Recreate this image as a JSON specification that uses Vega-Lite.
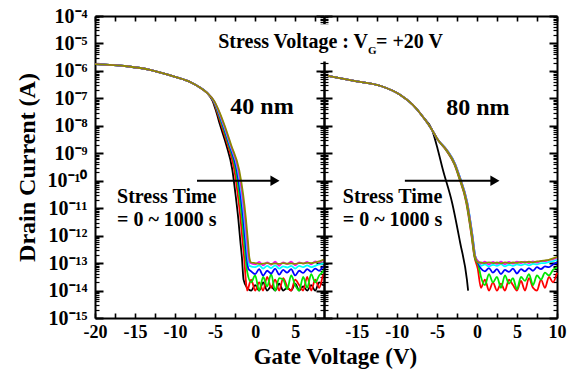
{
"$schema":"https://vega.github.io/schema/vega-lite/v6.json",
"padding":{"left":15,"top":6,"right":5,"bottom":5},
"background":"white",
"spacing":0,
"bounds":"flush",
"config":{"view":{"stroke":null},"font":"Liberation Serif","text":{"font":"Liberation Serif"},"axis":{"grid":false,"labelFont":"Liberation Serif","titleFont":"Liberation Serif","labelFontWeight":"bold","titleFontWeight":"bold","labelColor":"black","titleColor":"black","domainColor":"black","tickColor":"black","domainWidth":2,"tickWidth":1.6,"labelFlush":false,"labelOverlap":false}},
"datasets":{
"curves":[
{"p":"L","s":"0","V":-20,"I":1.78e-6},{"p":"L","s":"0","V":-16,"I":1.48e-6},{"p":"L","s":"0","V":-13,"I":1.07e-6},{"p":"L","s":"0","V":-10,"I":6.03e-7},{"p":"L","s":"0","V":-8,"I":3.8e-7},{"p":"L","s":"0","V":-6.9,"I":2.51e-7},{"p":"L","s":"0","V":-6,"I":1.58e-7},
{"p":"L","s":"0","V":-5.3,"I":7.94e-8},{"p":"L","s":"0","V":-4.95,"I":3.98e-8},{"p":"L","s":"0","V":-4.35,"I":1e-8},{"p":"L","s":"0","V":-3.6,"I":2e-9},{"p":"L","s":"0","V":-2.85,"I":2.51e-10},{"p":"L","s":"0","V":-2.45,"I":3.16e-11},{"p":"L","s":"0","V":-2.1,"I":3.98e-12},{"p":"L","s":"0","V":-1.85,"I":6.31e-13},{"p":"L","s":"0","V":-1.65,"I":1.58e-13},
{"p":"L","s":"0","V":-1.45,"I":2.51e-14},{"p":"L","s":"0","V":-1,"I":1.26e-14},{"p":"L","s":"0","V":-0.5,"I":1e-14},{"p":"L","s":"0","V":0,"I":1.58e-14},{"p":"L","s":"0","V":0.5,"I":1e-14},{"p":"L","s":"0","V":1,"I":2e-14},{"p":"L","s":"0","V":1.5,"I":1e-14},{"p":"L","s":"0","V":2,"I":1.41e-14},{"p":"L","s":"0","V":2.5,"I":1e-14},{"p":"L","s":"0","V":3,"I":1.78e-14},{"p":"L","s":"0","V":3.5,"I":1e-14},{"p":"L","s":"0","V":4,"I":1.26e-14},{"p":"L","s":"0","V":4.5,"I":1e-14},{"p":"L","s":"0","V":5,"I":1.78e-14},{"p":"L","s":"0","V":5.5,"I":1e-14},{"p":"L","s":"0","V":6,"I":1.41e-14},{"p":"L","s":"0","V":6.5,"I":1e-14},{"p":"L","s":"0","V":7,"I":1.58e-14},{"p":"L","s":"0","V":7.5,"I":1e-14},{"p":"L","s":"0","V":8,"I":2e-14},{"p":"L","s":"0","V":8.5,"I":1.58e-14},{"p":"L","s":"0","V":8.6,"I":1.58e-14},

{"p":"L","s":"10","V":-20,"I":1.78e-6},{"p":"L","s":"10","V":-16,"I":1.48e-6},{"p":"L","s":"10","V":-13,"I":1.07e-6},{"p":"L","s":"10","V":-10,"I":6.03e-7},{"p":"L","s":"10","V":-8,"I":3.8e-7},{"p":"L","s":"10","V":-6.9,"I":2.51e-7},{"p":"L","s":"10","V":-6,"I":1.58e-7},
{"p":"L","s":"10","V":-5.24,"I":7.94e-8},{"p":"L","s":"10","V":-4.85,"I":3.98e-8},{"p":"L","s":"10","V":-4.19,"I":1e-8},{"p":"L","s":"10","V":-3.42,"I":2e-9},{"p":"L","s":"10","V":-2.6,"I":2.51e-10},{"p":"L","s":"10","V":-2.17,"I":3.16e-11},{"p":"L","s":"10","V":-1.82,"I":3.98e-12},{"p":"L","s":"10","V":-1.57,"I":6.31e-13},{"p":"L","s":"10","V":-1.37,"I":1.58e-13},
{"p":"L","s":"10","V":-1.2,"I":3.16e-14},{"p":"L","s":"10","V":-1,"I":1e-14},{"p":"L","s":"10","V":-0.5,"I":2.51e-14},{"p":"L","s":"10","V":0,"I":1e-14},{"p":"L","s":"10","V":0.5,"I":2e-14},{"p":"L","s":"10","V":1,"I":1e-14},{"p":"L","s":"10","V":1.5,"I":3.16e-14},{"p":"L","s":"10","V":2,"I":1.26e-14},{"p":"L","s":"10","V":2.5,"I":2.51e-14},{"p":"L","s":"10","V":3,"I":1e-14},{"p":"L","s":"10","V":3.5,"I":2.82e-14},{"p":"L","s":"10","V":4,"I":1.41e-14},{"p":"L","s":"10","V":4.5,"I":1e-14},{"p":"L","s":"10","V":5,"I":2.51e-14},{"p":"L","s":"10","V":5.5,"I":1.58e-14},{"p":"L","s":"10","V":6,"I":1e-14},{"p":"L","s":"10","V":6.5,"I":3.16e-14},{"p":"L","s":"10","V":7,"I":1e-14},{"p":"L","s":"10","V":7.5,"I":2.51e-14},{"p":"L","s":"10","V":8,"I":1.26e-14},{"p":"L","s":"10","V":8.5,"I":3.55e-14},{"p":"L","s":"10","V":8.6,"I":3.98e-14},

{"p":"L","s":"30","V":-20,"I":1.78e-6},{"p":"L","s":"30","V":-16,"I":1.48e-6},{"p":"L","s":"30","V":-13,"I":1.07e-6},{"p":"L","s":"30","V":-10,"I":6.03e-7},{"p":"L","s":"30","V":-8,"I":3.8e-7},{"p":"L","s":"30","V":-6.9,"I":2.51e-7},{"p":"L","s":"30","V":-6,"I":1.58e-7},
{"p":"L","s":"30","V":-5.2,"I":7.94e-8},{"p":"L","s":"30","V":-4.78,"I":3.98e-8},{"p":"L","s":"30","V":-4.08,"I":1e-8},{"p":"L","s":"30","V":-3.3,"I":2e-9},{"p":"L","s":"30","V":-2.43,"I":2.51e-10},{"p":"L","s":"30","V":-1.98,"I":3.16e-11},{"p":"L","s":"30","V":-1.63,"I":3.98e-12},{"p":"L","s":"30","V":-1.38,"I":6.31e-13},{"p":"L","s":"30","V":-1.19,"I":1.58e-13},
{"p":"L","s":"30","V":-1,"I":5.01e-14},{"p":"L","s":"30","V":-0.5,"I":2e-14},{"p":"L","s":"30","V":0,"I":3.55e-14},{"p":"L","s":"30","V":0.5,"I":1e-14},{"p":"L","s":"30","V":1,"I":3.16e-14},{"p":"L","s":"30","V":1.5,"I":1.41e-14},{"p":"L","s":"30","V":2,"I":3.98e-14},{"p":"L","s":"30","V":2.5,"I":1e-14},{"p":"L","s":"30","V":3,"I":2.82e-14},{"p":"L","s":"30","V":3.5,"I":2.51e-14},{"p":"L","s":"30","V":4,"I":1.12e-14},{"p":"L","s":"30","V":4.5,"I":3.55e-14},{"p":"L","s":"30","V":5,"I":1.58e-14},{"p":"L","s":"30","V":5.5,"I":1e-14},{"p":"L","s":"30","V":6,"I":3.16e-14},{"p":"L","s":"30","V":6.5,"I":1.26e-14},{"p":"L","s":"30","V":7,"I":3.98e-14},{"p":"L","s":"30","V":7.5,"I":2e-14},{"p":"L","s":"30","V":8,"I":3.55e-14},{"p":"L","s":"30","V":8.5,"I":5.01e-14},{"p":"L","s":"30","V":8.6,"I":5.62e-14},

{"p":"L","s":"100","V":-20,"I":1.78e-6},{"p":"L","s":"100","V":-16,"I":1.48e-6},{"p":"L","s":"100","V":-13,"I":1.07e-6},{"p":"L","s":"100","V":-10,"I":6.03e-7},{"p":"L","s":"100","V":-8,"I":3.8e-7},{"p":"L","s":"100","V":-6.9,"I":2.51e-7},{"p":"L","s":"100","V":-6,"I":1.58e-7},
{"p":"L","s":"100","V":-5.17,"I":7.94e-8},{"p":"L","s":"100","V":-4.72,"I":3.98e-8},{"p":"L","s":"100","V":-3.99,"I":1e-8},{"p":"L","s":"100","V":-3.21,"I":2e-9},{"p":"L","s":"100","V":-2.3,"I":2.51e-10},{"p":"L","s":"100","V":-1.83,"I":3.16e-11},{"p":"L","s":"100","V":-1.48,"I":3.98e-12},{"p":"L","s":"100","V":-1.23,"I":6.31e-13},{"p":"L","s":"100","V":-1.05,"I":1.58e-13},
{"p":"L","s":"100","V":-0.85,"I":6.31e-14},{"p":"L","s":"100","V":-0.5,"I":5.01e-14},{"p":"L","s":"100","V":0,"I":3.98e-14},{"p":"L","s":"100","V":0.5,"I":6.03e-14},{"p":"L","s":"100","V":1,"I":3.55e-14},{"p":"L","s":"100","V":1.5,"I":5.25e-14},{"p":"L","s":"100","V":2,"I":4.17e-14},{"p":"L","s":"100","V":2.5,"I":6.31e-14},{"p":"L","s":"100","V":3,"I":3.8e-14},{"p":"L","s":"100","V":3.5,"I":5.62e-14},{"p":"L","s":"100","V":4,"I":4.47e-14},{"p":"L","s":"100","V":4.5,"I":6.03e-14},{"p":"L","s":"100","V":5,"I":3.55e-14},{"p":"L","s":"100","V":5.5,"I":5.25e-14},{"p":"L","s":"100","V":6,"I":4.37e-14},{"p":"L","s":"100","V":6.5,"I":6.03e-14},{"p":"L","s":"100","V":7,"I":4.79e-14},{"p":"L","s":"100","V":7.5,"I":6.31e-14},{"p":"L","s":"100","V":8,"I":5.25e-14},{"p":"L","s":"100","V":8.5,"I":7.08e-14},{"p":"L","s":"100","V":8.6,"I":7.08e-14},

{"p":"L","s":"300","V":-20,"I":1.78e-6},{"p":"L","s":"300","V":-16,"I":1.48e-6},{"p":"L","s":"300","V":-13,"I":1.07e-6},{"p":"L","s":"300","V":-10,"I":6.03e-7},{"p":"L","s":"300","V":-8,"I":3.8e-7},{"p":"L","s":"300","V":-6.9,"I":2.51e-7},{"p":"L","s":"300","V":-6,"I":1.58e-7},
{"p":"L","s":"300","V":-5.14,"I":7.94e-8},{"p":"L","s":"300","V":-4.67,"I":3.98e-8},{"p":"L","s":"300","V":-3.91,"I":1e-8},{"p":"L","s":"300","V":-3.12,"I":2e-9},{"p":"L","s":"300","V":-2.17,"I":2.51e-10},{"p":"L","s":"300","V":-1.69,"I":3.16e-11},{"p":"L","s":"300","V":-1.34,"I":3.98e-12},{"p":"L","s":"300","V":-1.09,"I":6.31e-13},{"p":"L","s":"300","V":-0.91,"I":1.58e-13},
{"p":"L","s":"300","V":-0.7,"I":7.94e-14},{"p":"L","s":"300","V":0,"I":7.08e-14},{"p":"L","s":"300","V":0.5,"I":8.32e-14},{"p":"L","s":"300","V":1,"I":6.31e-14},{"p":"L","s":"300","V":1.5,"I":7.94e-14},{"p":"L","s":"300","V":2,"I":6.61e-14},{"p":"L","s":"300","V":2.5,"I":8.32e-14},{"p":"L","s":"300","V":3,"I":6.31e-14},{"p":"L","s":"300","V":3.5,"I":7.59e-14},{"p":"L","s":"300","V":4,"I":6.92e-14},{"p":"L","s":"300","V":4.5,"I":7.94e-14},{"p":"L","s":"300","V":5,"I":6.31e-14},{"p":"L","s":"300","V":5.5,"I":7.94e-14},{"p":"L","s":"300","V":6,"I":7.08e-14},{"p":"L","s":"300","V":6.5,"I":8.32e-14},{"p":"L","s":"300","V":7,"I":7.08e-14},{"p":"L","s":"300","V":7.5,"I":7.94e-14},{"p":"L","s":"300","V":8,"I":8.91e-14},{"p":"L","s":"300","V":8.5,"I":9.55e-14},{"p":"L","s":"300","V":8.6,"I":1e-13},

{"p":"L","s":"600","V":-20,"I":1.78e-6},{"p":"L","s":"600","V":-16,"I":1.48e-6},{"p":"L","s":"600","V":-13,"I":1.07e-6},{"p":"L","s":"600","V":-10,"I":6.03e-7},{"p":"L","s":"600","V":-8,"I":3.8e-7},{"p":"L","s":"600","V":-6.9,"I":2.51e-7},{"p":"L","s":"600","V":-6,"I":1.58e-7},
{"p":"L","s":"600","V":-5.12,"I":7.94e-8},{"p":"L","s":"600","V":-4.64,"I":3.98e-8},{"p":"L","s":"600","V":-3.86,"I":1e-8},{"p":"L","s":"600","V":-3.06,"I":2e-9},{"p":"L","s":"600","V":-2.09,"I":2.51e-10},{"p":"L","s":"600","V":-1.6,"I":3.16e-11},{"p":"L","s":"600","V":-1.25,"I":3.98e-12},{"p":"L","s":"600","V":-1,"I":6.31e-13},{"p":"L","s":"600","V":-0.81,"I":1.58e-13},
{"p":"L","s":"600","V":-0.6,"I":1e-13},{"p":"L","s":"600","V":0,"I":8.91e-14},{"p":"L","s":"600","V":0.5,"I":1.1e-13},{"p":"L","s":"600","V":1,"I":8.32e-14},{"p":"L","s":"600","V":1.5,"I":1.07e-13},{"p":"L","s":"600","V":2,"I":8.71e-14},{"p":"L","s":"600","V":2.5,"I":1.12e-13},{"p":"L","s":"600","V":3,"I":7.94e-14},{"p":"L","s":"600","V":3.5,"I":1.07e-13},{"p":"L","s":"600","V":4,"I":9.12e-14},{"p":"L","s":"600","V":4.5,"I":1.12e-13},{"p":"L","s":"600","V":5,"I":8.32e-14},{"p":"L","s":"600","V":5.5,"I":1.07e-13},{"p":"L","s":"600","V":6,"I":9.55e-14},{"p":"L","s":"600","V":6.5,"I":1.1e-13},{"p":"L","s":"600","V":7,"I":8.91e-14},{"p":"L","s":"600","V":7.5,"I":1.15e-13},{"p":"L","s":"600","V":8,"I":1.07e-13},{"p":"L","s":"600","V":8.5,"I":1.26e-13},{"p":"L","s":"600","V":8.6,"I":1.26e-13},

{"p":"L","s":"1000","V":-20,"I":1.78e-6},{"p":"L","s":"1000","V":-16,"I":1.48e-6},{"p":"L","s":"1000","V":-13,"I":1.07e-6},{"p":"L","s":"1000","V":-10,"I":6.03e-7},{"p":"L","s":"1000","V":-8,"I":3.8e-7},{"p":"L","s":"1000","V":-6.9,"I":2.51e-7},{"p":"L","s":"1000","V":-6,"I":1.58e-7},
{"p":"L","s":"1000","V":-5.1,"I":7.94e-8},{"p":"L","s":"1000","V":-4.6,"I":3.98e-8},{"p":"L","s":"1000","V":-3.8,"I":1e-8},{"p":"L","s":"1000","V":-3,"I":2e-9},{"p":"L","s":"1000","V":-2,"I":2.51e-10},{"p":"L","s":"1000","V":-1.5,"I":3.16e-11},{"p":"L","s":"1000","V":-1.15,"I":3.98e-12},{"p":"L","s":"1000","V":-0.9,"I":6.31e-13},{"p":"L","s":"1000","V":-0.72,"I":1.58e-13},
{"p":"L","s":"1000","V":-0.5,"I":1.05e-13},{"p":"L","s":"1000","V":0,"I":1e-13},{"p":"L","s":"1000","V":0.5,"I":9.33e-14},{"p":"L","s":"1000","V":1,"I":9.55e-14},{"p":"L","s":"1000","V":1.5,"I":1e-13},{"p":"L","s":"1000","V":2,"I":9.33e-14},{"p":"L","s":"1000","V":2.5,"I":9.77e-14},{"p":"L","s":"1000","V":3,"I":9.33e-14},{"p":"L","s":"1000","V":3.5,"I":1e-13},{"p":"L","s":"1000","V":4,"I":9.55e-14},{"p":"L","s":"1000","V":4.5,"I":9.77e-14},{"p":"L","s":"1000","V":5,"I":9.33e-14},{"p":"L","s":"1000","V":5.5,"I":1e-13},{"p":"L","s":"1000","V":6,"I":9.77e-14},{"p":"L","s":"1000","V":6.5,"I":1.02e-13},{"p":"L","s":"1000","V":7,"I":1e-13},{"p":"L","s":"1000","V":7.5,"I":1.07e-13},{"p":"L","s":"1000","V":8,"I":1.15e-13},{"p":"L","s":"1000","V":8.5,"I":1.32e-13},{"p":"L","s":"1000","V":8.6,"I":1.35e-13},

{"p":"R","s":"0","V":-18.6,"I":6.61e-7},{"p":"R","s":"0","V":-15,"I":4.17e-7},{"p":"R","s":"0","V":-12,"I":2.82e-7},{"p":"R","s":"0","V":-9.6,"I":1.35e-7},{"p":"R","s":"0","V":-8,"I":5.75e-8},{"p":"R","s":"0","V":-6.75,"I":2.14e-8},{"p":"R","s":"0","V":-5.6,"I":7.08e-9},
{"p":"R","s":"0","V":-4.9,"I":1.41e-9},{"p":"R","s":"0","V":-4.25,"I":2.51e-10},{"p":"R","s":"0","V":-3.1,"I":1.58e-11},{"p":"R","s":"0","V":-2.1,"I":5.62e-13},{"p":"R","s":"0","V":-1.25,"I":2.51e-14},{"p":"R","s":"0","V":-1.1,"I":1e-14},

{"p":"R","s":"10","V":-18.6,"I":6.61e-7},{"p":"R","s":"10","V":-15,"I":4.17e-7},{"p":"R","s":"10","V":-12,"I":2.82e-7},{"p":"R","s":"10","V":-9.6,"I":1.35e-7},{"p":"R","s":"10","V":-8,"I":5.75e-8},{"p":"R","s":"10","V":-6.75,"I":2.14e-8},{"p":"R","s":"10","V":-5.6,"I":7.08e-9},
{"p":"R","s":"10","V":-4.9,"I":3.16e-9},{"p":"R","s":"10","V":-3.83,"I":1.26e-9},{"p":"R","s":"10","V":-2.83,"I":3.98e-10},{"p":"R","s":"10","V":-2.28,"I":1.41e-10},{"p":"R","s":"10","V":-1.33,"I":1.58e-11},{"p":"R","s":"10","V":-0.68,"I":1e-12},{"p":"R","s":"10","V":-0.33,"I":1.78e-13},
{"p":"R","s":"10","V":0.1,"I":6.31e-14},{"p":"R","s":"10","V":0.5,"I":1.26e-14},{"p":"R","s":"10","V":1,"I":2.51e-14},{"p":"R","s":"10","V":1.5,"I":1e-14},{"p":"R","s":"10","V":2,"I":2e-14},{"p":"R","s":"10","V":2.5,"I":1e-14},{"p":"R","s":"10","V":3,"I":1.78e-14},{"p":"R","s":"10","V":3.5,"I":1e-14},{"p":"R","s":"10","V":4,"I":2.51e-14},{"p":"R","s":"10","V":4.5,"I":1.58e-14},{"p":"R","s":"10","V":5,"I":1e-14},{"p":"R","s":"10","V":5.5,"I":2.24e-14},{"p":"R","s":"10","V":6,"I":1e-14},{"p":"R","s":"10","V":6.5,"I":2.82e-14},{"p":"R","s":"10","V":7,"I":1.26e-14},{"p":"R","s":"10","V":7.5,"I":1e-14},{"p":"R","s":"10","V":8,"I":2.51e-14},{"p":"R","s":"10","V":8.5,"I":1.26e-14},{"p":"R","s":"10","V":9,"I":3.16e-14},{"p":"R","s":"10","V":9.5,"I":2e-14},{"p":"R","s":"10","V":10,"I":4.47e-14},

{"p":"R","s":"30","V":-18.6,"I":6.61e-7},{"p":"R","s":"30","V":-15,"I":4.17e-7},{"p":"R","s":"30","V":-12,"I":2.82e-7},{"p":"R","s":"30","V":-9.6,"I":1.35e-7},{"p":"R","s":"30","V":-8,"I":5.75e-8},{"p":"R","s":"30","V":-6.75,"I":2.14e-8},{"p":"R","s":"30","V":-5.6,"I":7.08e-9},
{"p":"R","s":"30","V":-4.9,"I":3.16e-9},{"p":"R","s":"30","V":-3.8,"I":1.26e-9},{"p":"R","s":"30","V":-2.8,"I":3.98e-10},{"p":"R","s":"30","V":-2.25,"I":1.41e-10},{"p":"R","s":"30","V":-1.3,"I":1.58e-11},{"p":"R","s":"30","V":-0.65,"I":1e-12},{"p":"R","s":"30","V":-0.3,"I":1.78e-13},
{"p":"R","s":"30","V":0.2,"I":7.94e-14},{"p":"R","s":"30","V":0.5,"I":3.16e-14},{"p":"R","s":"30","V":1,"I":1.58e-14},{"p":"R","s":"30","V":1.5,"I":3.98e-14},{"p":"R","s":"30","V":2,"I":2e-14},{"p":"R","s":"30","V":2.5,"I":3.16e-14},{"p":"R","s":"30","V":3,"I":1.26e-14},{"p":"R","s":"30","V":3.5,"I":3.55e-14},{"p":"R","s":"30","V":4,"I":1.78e-14},{"p":"R","s":"30","V":4.5,"I":2.82e-14},{"p":"R","s":"30","V":5,"I":1.12e-14},{"p":"R","s":"30","V":5.5,"I":3.16e-14},{"p":"R","s":"30","V":6,"I":2.24e-14},{"p":"R","s":"30","V":6.5,"I":3.98e-14},{"p":"R","s":"30","V":7,"I":1.58e-14},{"p":"R","s":"30","V":7.5,"I":3.55e-14},{"p":"R","s":"30","V":8,"I":2.51e-14},{"p":"R","s":"30","V":8.5,"I":4.47e-14},{"p":"R","s":"30","V":9,"I":3.55e-14},{"p":"R","s":"30","V":9.5,"I":5.62e-14},{"p":"R","s":"30","V":10,"I":7.08e-14},

{"p":"R","s":"100","V":-18.6,"I":6.61e-7},{"p":"R","s":"100","V":-15,"I":4.17e-7},{"p":"R","s":"100","V":-12,"I":2.82e-7},{"p":"R","s":"100","V":-9.6,"I":1.35e-7},{"p":"R","s":"100","V":-8,"I":5.75e-8},{"p":"R","s":"100","V":-6.75,"I":2.14e-8},{"p":"R","s":"100","V":-5.6,"I":7.08e-9},
{"p":"R","s":"100","V":-4.9,"I":3.16e-9},{"p":"R","s":"100","V":-3.71,"I":1.26e-9},{"p":"R","s":"100","V":-2.71,"I":3.98e-10},{"p":"R","s":"100","V":-2.16,"I":1.41e-10},{"p":"R","s":"100","V":-1.21,"I":1.58e-11},{"p":"R","s":"100","V":-0.56,"I":1e-12},{"p":"R","s":"100","V":-0.21,"I":1.78e-13},
{"p":"R","s":"100","V":0.25,"I":8.91e-14},{"p":"R","s":"100","V":0.5,"I":6.31e-14},{"p":"R","s":"100","V":1,"I":5.01e-14},{"p":"R","s":"100","V":1.5,"I":6.61e-14},{"p":"R","s":"100","V":2,"I":4.47e-14},{"p":"R","s":"100","V":2.5,"I":6.03e-14},{"p":"R","s":"100","V":3,"I":3.98e-14},{"p":"R","s":"100","V":3.5,"I":5.62e-14},{"p":"R","s":"100","V":4,"I":4.79e-14},{"p":"R","s":"100","V":4.5,"I":6.31e-14},{"p":"R","s":"100","V":5,"I":4.17e-14},{"p":"R","s":"100","V":5.5,"I":6.03e-14},{"p":"R","s":"100","V":6,"I":5.01e-14},{"p":"R","s":"100","V":6.5,"I":6.61e-14},{"p":"R","s":"100","V":7,"I":5.25e-14},{"p":"R","s":"100","V":7.5,"I":7.08e-14},{"p":"R","s":"100","V":8,"I":6.03e-14},{"p":"R","s":"100","V":8.5,"I":7.59e-14},{"p":"R","s":"100","V":9,"I":7.08e-14},{"p":"R","s":"100","V":9.5,"I":8.91e-14},{"p":"R","s":"100","V":10,"I":1.05e-13},

{"p":"R","s":"300","V":-18.6,"I":6.61e-7},{"p":"R","s":"300","V":-15,"I":4.17e-7},{"p":"R","s":"300","V":-12,"I":2.82e-7},{"p":"R","s":"300","V":-9.6,"I":1.35e-7},{"p":"R","s":"300","V":-8,"I":5.75e-8},{"p":"R","s":"300","V":-6.75,"I":2.14e-8},{"p":"R","s":"300","V":-5.6,"I":7.08e-9},
{"p":"R","s":"300","V":-4.9,"I":3.16e-9},{"p":"R","s":"300","V":-3.7,"I":1.26e-9},{"p":"R","s":"300","V":-2.7,"I":3.98e-10},{"p":"R","s":"300","V":-2.15,"I":1.41e-10},{"p":"R","s":"300","V":-1.2,"I":1.58e-11},{"p":"R","s":"300","V":-0.55,"I":1e-12},{"p":"R","s":"300","V":-0.2,"I":1.78e-13},
{"p":"R","s":"300","V":0.3,"I":1e-13},{"p":"R","s":"300","V":0.5,"I":7.94e-14},{"p":"R","s":"300","V":1,"I":8.91e-14},{"p":"R","s":"300","V":1.5,"I":7.59e-14},{"p":"R","s":"300","V":2,"I":8.71e-14},{"p":"R","s":"300","V":2.5,"I":7.94e-14},{"p":"R","s":"300","V":3,"I":9.12e-14},{"p":"R","s":"300","V":3.5,"I":7.59e-14},{"p":"R","s":"300","V":4,"I":8.71e-14},{"p":"R","s":"300","V":4.5,"I":7.94e-14},{"p":"R","s":"300","V":5,"I":8.91e-14},{"p":"R","s":"300","V":5.5,"I":8.32e-14},{"p":"R","s":"300","V":6,"I":9.12e-14},{"p":"R","s":"300","V":6.5,"I":8.32e-14},{"p":"R","s":"300","V":7,"I":9.33e-14},{"p":"R","s":"300","V":7.5,"I":8.91e-14},{"p":"R","s":"300","V":8,"I":1e-13},{"p":"R","s":"300","V":8.5,"I":1e-13},{"p":"R","s":"300","V":9,"I":1.1e-13},{"p":"R","s":"300","V":9.5,"I":1.17e-13},{"p":"R","s":"300","V":10,"I":1.32e-13},

{"p":"R","s":"600","V":-18.6,"I":6.61e-7},{"p":"R","s":"600","V":-15,"I":4.17e-7},{"p":"R","s":"600","V":-12,"I":2.82e-7},{"p":"R","s":"600","V":-9.6,"I":1.35e-7},{"p":"R","s":"600","V":-8,"I":5.75e-8},{"p":"R","s":"600","V":-6.75,"I":2.14e-8},{"p":"R","s":"600","V":-5.6,"I":7.08e-9},
{"p":"R","s":"600","V":-4.9,"I":3.16e-9},{"p":"R","s":"600","V":-3.73,"I":1.26e-9},{"p":"R","s":"600","V":-2.73,"I":3.98e-10},{"p":"R","s":"600","V":-2.18,"I":1.41e-10},{"p":"R","s":"600","V":-1.23,"I":1.58e-11},{"p":"R","s":"600","V":-0.58,"I":1e-12},{"p":"R","s":"600","V":-0.23,"I":1.78e-13},
{"p":"R","s":"600","V":0.3,"I":1.05e-13},{"p":"R","s":"600","V":0.5,"I":9.55e-14},{"p":"R","s":"600","V":1,"I":1.12e-13},{"p":"R","s":"600","V":1.5,"I":8.91e-14},{"p":"R","s":"600","V":2,"I":1.1e-13},{"p":"R","s":"600","V":2.5,"I":9.33e-14},{"p":"R","s":"600","V":3,"I":1.12e-13},{"p":"R","s":"600","V":3.5,"I":9.12e-14},{"p":"R","s":"600","V":4,"I":1.1e-13},{"p":"R","s":"600","V":4.5,"I":9.55e-14},{"p":"R","s":"600","V":5,"I":1.12e-13},{"p":"R","s":"600","V":5.5,"I":1e-13},{"p":"R","s":"600","V":6,"I":1.12e-13},{"p":"R","s":"600","V":6.5,"I":1e-13},{"p":"R","s":"600","V":7,"I":1.15e-13},{"p":"R","s":"600","V":7.5,"I":1.05e-13},{"p":"R","s":"600","V":8,"I":1.2e-13},{"p":"R","s":"600","V":8.5,"I":1.17e-13},{"p":"R","s":"600","V":9,"I":1.32e-13},{"p":"R","s":"600","V":9.5,"I":1.38e-13},{"p":"R","s":"600","V":10,"I":1.58e-13},

{"p":"R","s":"1000","V":-18.6,"I":6.61e-7},{"p":"R","s":"1000","V":-15,"I":4.17e-7},{"p":"R","s":"1000","V":-12,"I":2.82e-7},{"p":"R","s":"1000","V":-9.6,"I":1.35e-7},{"p":"R","s":"1000","V":-8,"I":5.75e-8},{"p":"R","s":"1000","V":-6.75,"I":2.14e-8},{"p":"R","s":"1000","V":-5.6,"I":7.08e-9},
{"p":"R","s":"1000","V":-4.9,"I":3.16e-9},{"p":"R","s":"1000","V":-3.75,"I":1.26e-9},{"p":"R","s":"1000","V":-2.75,"I":3.98e-10},{"p":"R","s":"1000","V":-2.2,"I":1.41e-10},{"p":"R","s":"1000","V":-1.25,"I":1.58e-11},{"p":"R","s":"1000","V":-0.6,"I":1e-12},{"p":"R","s":"1000","V":-0.25,"I":1.78e-13},
{"p":"R","s":"1000","V":0.2,"I":1.05e-13},{"p":"R","s":"1000","V":0.5,"I":1.05e-13},{"p":"R","s":"1000","V":1,"I":1e-13},{"p":"R","s":"1000","V":1.5,"I":1.07e-13},{"p":"R","s":"1000","V":2,"I":1e-13},{"p":"R","s":"1000","V":2.5,"I":1.05e-13},{"p":"R","s":"1000","V":3,"I":9.77e-14},{"p":"R","s":"1000","V":3.5,"I":1.07e-13},{"p":"R","s":"1000","V":4,"I":1e-13},{"p":"R","s":"1000","V":4.5,"I":1.05e-13},{"p":"R","s":"1000","V":5,"I":1.02e-13},{"p":"R","s":"1000","V":5.5,"I":1.1e-13},{"p":"R","s":"1000","V":6,"I":1.05e-13},{"p":"R","s":"1000","V":6.5,"I":1.12e-13},{"p":"R","s":"1000","V":7,"I":1.07e-13},{"p":"R","s":"1000","V":7.5,"I":1.15e-13},{"p":"R","s":"1000","V":8,"I":1.17e-13},{"p":"R","s":"1000","V":8.5,"I":1.26e-13},{"p":"R","s":"1000","V":9,"I":1.32e-13},{"p":"R","s":"1000","V":9.5,"I":1.48e-13},{"p":"R","s":"1000","V":10,"I":1.66e-13}
],
"notes":[
{"p":"L","k":"nm","V":0.86,"I":4.9e-8,"t":"40 nm"},
{"p":"R","k":"nm","V":0.12,"I":4.47e-8,"t":"80 nm"},
{"p":"L","k":"st","V":-17.25,"I":2.63e-11,"t":"Stress Time"},
{"p":"L","k":"st","V":-17.25,"I":3.8e-12,"t":"= 0 ~ 1000 s"},
{"p":"R","k":"st","V":-16.75,"I":2.63e-11,"t":"Stress Time"},
{"p":"R","k":"st","V":-16.75,"I":3.8e-12,"t":"= 0 ~ 1000 s"},
{"p":"R","k":"sv","V":-13.6,"I":1.13e-5,"t":"Stress Voltage : V"},
{"p":"R","k":"sub","V":-13.6,"I":5.37e-6,"t":"G"},
{"p":"R","k":"sv2","V":-12.6,"I":1.13e-5,"t":"= +20 V"}
],
"arrows":[
{"p":"L","V":-7.26,"V2":2.48,"I":1e-10},
{"p":"R","V":-9.0,"V2":2.25,"I":1e-10}
],
"masks":[
{"p":"R","V":-20,"V2":-18,"I":2.2e-6,"I2":5e-5}
]
},
"hconcat":[
{
"width":229,"height":302,
"resolve":{"axis":{"x":"independent","y":"independent"}},
"layer":[
{"data":{"name":"curves"},"transform":[{"filter":"datum.p === 'L'"}],
 "mark":{"type":"line","strokeWidth":1.8,"interpolate":"monotone"},
 "encoding":{
  "x":{"field":"V","type":"quantitative","scale":{"domain":[-20,8.6],"nice":false,"zero":false},
       "axis":{"orient":"bottom","values":[-20,-17.5,-15,-12.5,-10,-7.5,-5,-2.5,0,2.5,5,7.5],"labelExpr":"datum.value % 5 === 0 ? toString(datum.value) : ''","tickSize":-5,"labelPadding":10,"labelFont":"Liberation Serif","labelFontWeight":"bold","labelFontSize":18,"title":"Gate Voltage (V)","titleFont":"Liberation Serif","titleFontWeight":"bold","titleFontSize":23,"titleX":240,"titlePadding":4}},
  "y":{"field":"I","type":"quantitative","scale":{"type":"log","domain":[1e-15,1e-4],"nice":false},
       "axis":{"orient":"left","values":[1e-15,1e-14,1e-13,1e-12,1e-11,1e-10,1e-9,1e-8,1e-7,1e-6,1e-5,1e-4],"labelExpr":"'10⁻' + (round(-log(datum.value)/LN10) >= 10 ? '¹' + substring('⁰¹²³⁴⁵⁶⁷⁸⁹', round(-log(datum.value)/LN10) - 10, round(-log(datum.value)/LN10) - 9) : substring('⁰¹²³⁴⁵⁶⁷⁸⁹', round(-log(datum.value)/LN10), round(-log(datum.value)/LN10) + 1))","tickSize":-8,"tickWidth":2,"labelPadding":16,"labelFont":"Liberation Serif","labelFontWeight":"bold","labelFontSize":20,"title":"Drain Current (A)","titleFont":"Liberation Serif","titleFontWeight":"bold","titleFontSize":24,"titlePadding":8}},
  "color":{"field":"s","type":"nominal","scale":{"domain":["0","10","30","100","300","600","1000"],"range":["#000000","#ff0000","#00e600","#0000ff","#00ffff","#ff00ff","#8b8b00"]},"legend":null}
 }},
{"data":{"name":"arrows"},"transform":[{"filter":"datum.p === 'L'"}],
 "mark":{"type":"rule","strokeWidth":2,"color":"black"},
 "encoding":{
  "x":{"field":"V","type":"quantitative","scale":{"domain":[-20,8.6],"nice":false,"zero":false},"axis":{"orient":"top","values":[-20,-17.5,-15,-12.5,-10,-7.5,-5,-2.5,0,2.5,5,7.5],"labels":false,"tickSize":-5,"title":null}},
  "x2":{"field":"V2"},
  "y":{"field":"I","type":"quantitative","scale":{"type":"log","domain":[1e-15,1e-4],"nice":false},"axis":{"orient":"right","values":[1e-15,1e-14,1e-13,1e-12,1e-11,1e-10,1e-9,1e-8,1e-7,1e-6,1e-5,1e-4],"labels":false,"tickSize":-8,"tickWidth":2,"title":null}}
 }},
{"data":{"name":"arrows"},"transform":[{"filter":"datum.p === 'L'"}],
 "mark":{"type":"point","shape":"triangle-right","size":110,"filled":true,"color":"black","opacity":1},
 "encoding":{
  "x":{"field":"V2","type":"quantitative","scale":{"domain":[-20,8.6],"nice":false,"zero":false},"axis":null},
  "y":{"field":"I","type":"quantitative","scale":{"type":"log","domain":[1e-15,1e-4],"nice":false},"axis":{"orient":"left","values":[2e-15,3e-15,4e-15,5e-15,6e-15,7e-15,8e-15,9e-15,2e-14,3e-14,4e-14,5e-14,6e-14,7e-14,8e-14,9e-14,2e-13,3e-13,4e-13,5e-13,6e-13,7e-13,8e-13,9e-13,2e-12,3e-12,4e-12,5e-12,6e-12,7e-12,8e-12,9e-12,2e-11,3e-11,4e-11,5e-11,6e-11,7e-11,8e-11,9e-11,2e-10,3e-10,4e-10,5e-10,6e-10,7e-10,8e-10,9e-10,2e-9,3e-9,4e-9,5e-9,6e-9,7e-9,8e-9,9e-9,2e-8,3e-8,4e-8,5e-8,6e-8,7e-8,8e-8,9e-8,2e-7,3e-7,4e-7,5e-7,6e-7,7e-7,8e-7,9e-7,2e-6,3e-6,4e-6,5e-6,6e-6,7e-6,8e-6,9e-6,2e-5,3e-5,4e-5,5e-5,6e-5,7e-5,8e-5,9e-5],"labels":false,"domain":false,"tickSize":-4,"tickWidth":1.2,"title":null}}
 }},
{"data":{"name":"notes"},"transform":[{"filter":"datum.p === 'L' && datum.k === 'st'"}],
 "mark":{"type":"text","align":"left","baseline":"middle","font":"Liberation Serif","fontWeight":"bold","fontSize":20,"color":"black"},
 "encoding":{
  "x":{"field":"V","type":"quantitative","scale":{"domain":[-20,8.6],"nice":false,"zero":false},"axis":null},
  "y":{"field":"I","type":"quantitative","scale":{"type":"log","domain":[1e-15,1e-4],"nice":false},"axis":{"orient":"right","values":[2e-15,3e-15,4e-15,5e-15,6e-15,7e-15,8e-15,9e-15,2e-14,3e-14,4e-14,5e-14,6e-14,7e-14,8e-14,9e-14,2e-13,3e-13,4e-13,5e-13,6e-13,7e-13,8e-13,9e-13,2e-12,3e-12,4e-12,5e-12,6e-12,7e-12,8e-12,9e-12,2e-11,3e-11,4e-11,5e-11,6e-11,7e-11,8e-11,9e-11,2e-10,3e-10,4e-10,5e-10,6e-10,7e-10,8e-10,9e-10,2e-9,3e-9,4e-9,5e-9,6e-9,7e-9,8e-9,9e-9,2e-8,3e-8,4e-8,5e-8,6e-8,7e-8,8e-8,9e-8,2e-7,3e-7,4e-7,5e-7,6e-7,7e-7,8e-7,9e-7,2e-6,3e-6,4e-6,5e-6,6e-6,7e-6,8e-6,9e-6,2e-5,3e-5,4e-5,5e-5,6e-5,7e-5,8e-5,9e-5],"labels":false,"domain":false,"tickSize":-4,"tickWidth":1.2,"title":null}},
  "text":{"field":"t"}
 }},
{"data":{"name":"notes"},"transform":[{"filter":"datum.p === 'L' && datum.k === 'nm'"}],
 "mark":{"type":"text","align":"center","baseline":"middle","font":"Liberation Serif","fontWeight":"bold","fontSize":24,"color":"black"},
 "encoding":{
  "x":{"field":"V","type":"quantitative","scale":{"domain":[-20,8.6],"nice":false,"zero":false},"axis":null},
  "y":{"field":"I","type":"quantitative","scale":{"type":"log","domain":[1e-15,1e-4],"nice":false},"axis":null},
  "text":{"field":"t"}
 }}
]
},
{
"width":233,"height":302,
"resolve":{"axis":{"x":"independent","y":"independent"}},
"layer":[
{"data":{"name":"curves"},"transform":[{"filter":"datum.p === 'R'"}],
 "mark":{"type":"line","strokeWidth":1.8,"interpolate":"monotone"},
 "encoding":{
  "x":{"field":"V","type":"quantitative","scale":{"domain":[-19.1,10],"nice":false,"zero":false},
       "axis":{"orient":"bottom","values":[-17.5,-15,-12.5,-10,-7.5,-5,-2.5,0,2.5,5,7.5,10],"labelExpr":"datum.value % 5 === 0 ? toString(datum.value) : ''","tickSize":-5,"labelPadding":10,"labelFont":"Liberation Serif","labelFontWeight":"bold","labelFontSize":18,"title":null}},
  "y":{"field":"I","type":"quantitative","scale":{"type":"log","domain":[1e-15,1e-4],"nice":false},
       "axis":{"orient":"left","values":[1e-15,1e-14,1e-13,1e-12,1e-11,1e-10,1e-9,1e-8,1e-7,1e-6,1e-5,1e-4],"labels":false,"tickSize":-8,"tickWidth":2,"title":null}},
  "color":{"field":"s","type":"nominal","scale":{"domain":["0","10","30","100","300","600","1000"],"range":["#000000","#ff0000","#00e600","#0000ff","#00ffff","#ff00ff","#8b8b00"]},"legend":null}
 }},
{"data":{"name":"arrows"},"transform":[{"filter":"datum.p === 'R'"}],
 "mark":{"type":"rule","strokeWidth":2,"color":"black"},
 "encoding":{
  "x":{"field":"V","type":"quantitative","scale":{"domain":[-19.1,10],"nice":false,"zero":false},"axis":{"orient":"top","values":[-17.5,-15,-12.5,-10,-7.5,-5,-2.5,0,2.5,5,7.5,10],"labels":false,"tickSize":-5,"title":null}},
  "x2":{"field":"V2"},
  "y":{"field":"I","type":"quantitative","scale":{"type":"log","domain":[1e-15,1e-4],"nice":false},"axis":{"orient":"right","values":[1e-15,1e-14,1e-13,1e-12,1e-11,1e-10,1e-9,1e-8,1e-7,1e-6,1e-5,1e-4],"labels":false,"tickSize":-8,"tickWidth":2,"title":null}}
 }},
{"data":{"name":"arrows"},"transform":[{"filter":"datum.p === 'R'"}],
 "mark":{"type":"point","shape":"triangle-right","size":110,"filled":true,"color":"black","opacity":1},
 "encoding":{
  "x":{"field":"V2","type":"quantitative","scale":{"domain":[-19.1,10],"nice":false,"zero":false},"axis":null},
  "y":{"field":"I","type":"quantitative","scale":{"type":"log","domain":[1e-15,1e-4],"nice":false},"axis":{"orient":"left","values":[2e-15,3e-15,4e-15,5e-15,6e-15,7e-15,8e-15,9e-15,2e-14,3e-14,4e-14,5e-14,6e-14,7e-14,8e-14,9e-14,2e-13,3e-13,4e-13,5e-13,6e-13,7e-13,8e-13,9e-13,2e-12,3e-12,4e-12,5e-12,6e-12,7e-12,8e-12,9e-12,2e-11,3e-11,4e-11,5e-11,6e-11,7e-11,8e-11,9e-11,2e-10,3e-10,4e-10,5e-10,6e-10,7e-10,8e-10,9e-10,2e-9,3e-9,4e-9,5e-9,6e-9,7e-9,8e-9,9e-9,2e-8,3e-8,4e-8,5e-8,6e-8,7e-8,8e-8,9e-8,2e-7,3e-7,4e-7,5e-7,6e-7,7e-7,8e-7,9e-7,2e-6,3e-6,4e-6,5e-6,6e-6,7e-6,8e-6,9e-6,2e-5,3e-5,4e-5,5e-5,6e-5,7e-5,8e-5,9e-5],"labels":false,"domain":false,"tickSize":-4,"tickWidth":1.2,"title":null}}
 }},
{"data":{"name":"notes"},"transform":[{"filter":"datum.p === 'R' && datum.k === 'st'"}],
 "mark":{"type":"text","align":"left","baseline":"middle","font":"Liberation Serif","fontWeight":"bold","fontSize":20,"color":"black"},
 "encoding":{
  "x":{"field":"V","type":"quantitative","scale":{"domain":[-19.1,10],"nice":false,"zero":false},"axis":null},
  "y":{"field":"I","type":"quantitative","scale":{"type":"log","domain":[1e-15,1e-4],"nice":false},"axis":{"orient":"right","values":[2e-15,3e-15,4e-15,5e-15,6e-15,7e-15,8e-15,9e-15,2e-14,3e-14,4e-14,5e-14,6e-14,7e-14,8e-14,9e-14,2e-13,3e-13,4e-13,5e-13,6e-13,7e-13,8e-13,9e-13,2e-12,3e-12,4e-12,5e-12,6e-12,7e-12,8e-12,9e-12,2e-11,3e-11,4e-11,5e-11,6e-11,7e-11,8e-11,9e-11,2e-10,3e-10,4e-10,5e-10,6e-10,7e-10,8e-10,9e-10,2e-9,3e-9,4e-9,5e-9,6e-9,7e-9,8e-9,9e-9,2e-8,3e-8,4e-8,5e-8,6e-8,7e-8,8e-8,9e-8,2e-7,3e-7,4e-7,5e-7,6e-7,7e-7,8e-7,9e-7,2e-6,3e-6,4e-6,5e-6,6e-6,7e-6,8e-6,9e-6,2e-5,3e-5,4e-5,5e-5,6e-5,7e-5,8e-5,9e-5],"labels":false,"domain":false,"tickSize":-4,"tickWidth":1.2,"title":null}},
  "text":{"field":"t"}
 }},
{"data":{"name":"notes"},"transform":[{"filter":"datum.p === 'R' && datum.k === 'nm'"}],
 "mark":{"type":"text","align":"center","baseline":"middle","font":"Liberation Serif","fontWeight":"bold","fontSize":24,"color":"black"},
 "encoding":{
  "x":{"field":"V","type":"quantitative","scale":{"domain":[-19.1,10],"nice":false,"zero":false},"axis":null},
  "y":{"field":"I","type":"quantitative","scale":{"type":"log","domain":[1e-15,1e-4],"nice":false},"axis":null},
  "text":{"field":"t"}
 }},
{"data":{"name":"masks"},
 "mark":{"type":"rect","color":"white","opacity":1},
 "encoding":{
  "x":{"field":"V","type":"quantitative","scale":{"domain":[-19.1,10],"nice":false,"zero":false},"axis":null},
  "x2":{"field":"V2"},
  "y":{"field":"I","type":"quantitative","scale":{"type":"log","domain":[1e-15,1e-4],"nice":false},"axis":null},
  "y2":{"field":"I2"}
 }},
{"data":{"name":"notes"},"transform":[{"filter":"datum.k === 'sv'"}],
 "mark":{"type":"text","align":"right","baseline":"middle","font":"Liberation Serif","fontWeight":"bold","fontSize":20,"color":"black"},
 "encoding":{
  "x":{"field":"V","type":"quantitative","scale":{"domain":[-19.1,10],"nice":false,"zero":false},"axis":null},
  "y":{"field":"I","type":"quantitative","scale":{"type":"log","domain":[1e-15,1e-4],"nice":false},"axis":null},
  "text":{"field":"t"}
 }},
{"data":{"name":"notes"},"transform":[{"filter":"datum.k === 'sub'"}],
 "mark":{"type":"text","align":"left","baseline":"middle","font":"Liberation Serif","fontWeight":"bold","fontSize":11,"color":"black"},
 "encoding":{
  "x":{"field":"V","type":"quantitative","scale":{"domain":[-19.1,10],"nice":false,"zero":false},"axis":null},
  "y":{"field":"I","type":"quantitative","scale":{"type":"log","domain":[1e-15,1e-4],"nice":false},"axis":null},
  "text":{"field":"t"}
 }},
{"data":{"name":"notes"},"transform":[{"filter":"datum.k === 'sv2'"}],
 "mark":{"type":"text","align":"left","baseline":"middle","font":"Liberation Serif","fontWeight":"bold","fontSize":20,"color":"black"},
 "encoding":{
  "x":{"field":"V","type":"quantitative","scale":{"domain":[-19.1,10],"nice":false,"zero":false},"axis":null},
  "y":{"field":"I","type":"quantitative","scale":{"type":"log","domain":[1e-15,1e-4],"nice":false},"axis":null},
  "text":{"field":"t"}
 }}
]
}
]
}
